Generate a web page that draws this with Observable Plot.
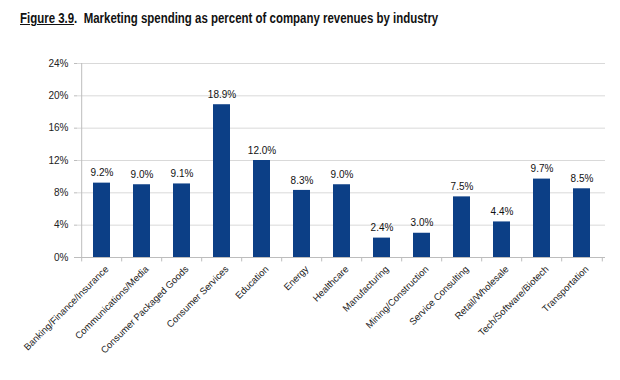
<!DOCTYPE html>
<html>
<head>
<meta charset="utf-8">
<script src="https://cdn.jsdelivr.net/npm/d3@7"></script>
<script src="https://cdn.jsdelivr.net/npm/@observablehq/plot@0.6"></script>
<style>
  html, body { margin: 0; padding: 0; background: #fff; }
  #title { height: 40px; box-sizing: border-box; padding: 9px 0 0 20px; white-space: nowrap; }
  #title span { display: inline-block; transform: scaleX(0.79); transform-origin: 0 50%;
    font-family: "Liberation Sans Narrow", "Arial Narrow", "Liberation Sans", sans-serif;
    font-weight: bold; font-size: 14.5px; color: #111; }
  svg { display: block; }
</style>
</head>
<body>
<div id="title"><span><u>Figure 3.9</u>.&nbsp; Marketing spending as percent of company revenues by industry</span></div>
<div id="chart"></div>
<script>
const categories = ["Banking/Finance/Insurance","Communications/Media","Consumer Packaged Goods","Consumer Services","Education","Energy","Healthcare","Manufacturing","Mining/Construction","Service Consulting","Retail/Wholesale","Tech/Software/Biotech","Transportation"];
const values = [9.2, 9.0, 9.1, 18.9, 12.0, 8.3, 9.0, 2.4, 3.0, 7.5, 4.4, 9.7, 8.5];
const yTicks = [0, 4, 8, 12, 16, 20, 24];

const data = categories.map((c, i) => ({category: c, value: values[i]}));

const W = 620, H = 340, ML = 77, MR = 15, MT = 23, MB = 123;
const step = (W - ML - MR) / categories.length;
const font = "'Liberation Sans Narrow', 'Arial Narrow', 'Liberation Sans', sans-serif";

const chart = Plot.plot({
  width: W, height: H,
  marginLeft: ML, marginRight: MR, marginTop: MT, marginBottom: MB,
  style: {fontFamily: font, fontSize: "10px", color: "#222", background: "#fff"},
  x: {domain: categories, paddingInner: 0.58, paddingOuter: 0.29, label: null},
  y: {domain: [0, 24], ticks: yTicks, label: null},
  marks: [
    Plot.gridY(yTicks, {stroke: "#d9d9d9", strokeOpacity: 1}),
    Plot.ruleX([categories[0]], {x: d => d, y1: 0, y2: 24, dx: -step / 2, stroke: "#bdbdbd"}),
    Plot.ruleY([0], {stroke: "#bdbdbd"}),
    Plot.axisY({ticks: yTicks, tickSize: 3, tickPadding: 6, stroke: "#bdbdbd", tickFormat: d => d + "%", fontSize: 10, fill: "#222"}),
    Plot.ruleX(categories, {x: d => d, y1: 0, y2: -0.55, dx: -step / 2, stroke: "#bdbdbd"}),
    Plot.ruleX([categories[categories.length - 1]], {x: d => d, y1: 0, y2: -0.55, dx: step / 2, stroke: "#bdbdbd"}),
    Plot.axisX({tickSize: 0, tickRotate: -45, textAnchor: "end", tickPadding: 10, fontSize: 9.5, fill: "#222", dx: 5}),
    Plot.barY(data, {x: "category", y: "value", fill: "#0c3f86"}),
    Plot.text(data, {x: "category", y: "value", text: d => d.value.toFixed(1) + "%", dy: -10, fontSize: 10, fill: "#111"})
  ]
});
document.getElementById("chart").appendChild(chart);
</script>
</body>
</html>
